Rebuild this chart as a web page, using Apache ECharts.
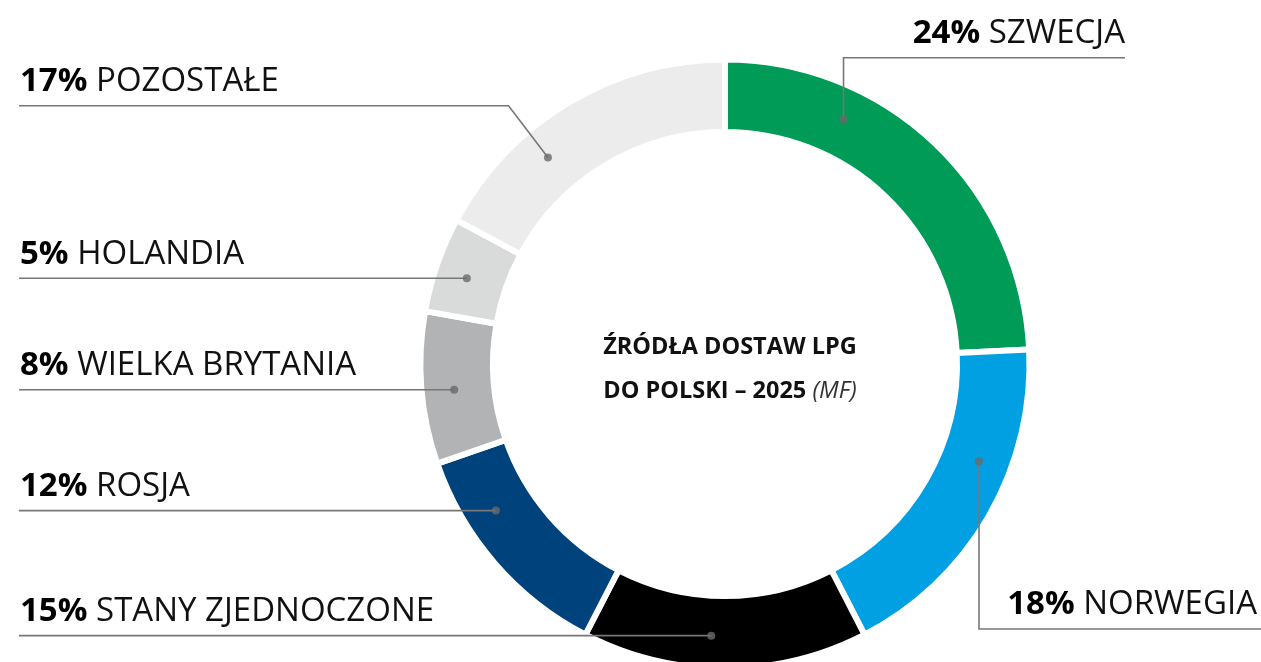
<!DOCTYPE html>
<html>
<head>
<meta charset="utf-8">
<script src="https://cdn.jsdelivr.net/npm/echarts@6/dist/echarts.min.js"></script>
<style>
  html, body { margin: 0; padding: 0; background: #fff; }
  #chart { width: 1261px; height: 662px; }
</style>
</head>
<body>
<div id="chart"></div>
<script>
const names = ["SZWECJA", "NORWEGIA", "STANY ZJEDNOCZONE", "ROSJA", "WIELKA BRYTANIA", "HOLANDIA", "POZOSTAŁE"];
const shares = [24, 18, 15, 12, 8, 5, 17];
const colors = ["#009b57", "#00a0e3", "#000000", "#00427b", "#b2b3b5", "#d9dada", "#ececec"];
const titleLines = ["ŹRÓDŁA DOSTAW LPG", "DO POLSKI – 2025"];
const titleNote = "(MF)";

// geometry of the ring
const CX = 725;
const CY = 364;
const R_OUT = 304.5;
const R_IN = 232;
const R_DOT = 272;
const GAP = 6;

// where each callout sits: t = position of the dot inside its slice
const spots = [
  { side: "right", mode: "v", t: 0.296, lineY: 57.7, textX: 1125, lineEnd: 1125 },
  { side: "right", mode: "v", t: 0.362, lineY: 629, textX: 1257, lineEnd: 1261 },
  { side: "left", mode: "h", t: 0.553, textX: 20, lineEnd: 19 },
  { side: "left", mode: "h", t: 0.69, textX: 20, lineEnd: 19 },
  { side: "left", mode: "h", t: 0.47, textX: 20, lineEnd: 19 },
  { side: "left", mode: "h", t: 0.46, textX: 20, lineEnd: 19 },
  { side: "left", mode: "d", t: 0.343, lineY: 105.7, textX: 20, lineEnd: 19, slope: 0.76 },
];

const total = shares.reduce((a, b) => a + b, 0);
const starts = [];
shares.reduce((acc, v, i) => { starts[i] = acc; return acc + v; }, 0);
const dotAngles = shares.map((v, i) => starts[i] + spots[i].t * v);

function dotPixel(i) {
  const a = dotAngles[i] / total * Math.PI * 2;
  return [CX + R_DOT * Math.sin(a), CY - R_DOT * Math.cos(a)];
}

const pieData = names.map((n, i) => ({ name: n, value: shares[i], itemStyle: { color: colors[i] } }));

const chart = echarts.init(document.getElementById("chart"), null, { renderer: "canvas" });

chart.setOption({
  animation: false,
  backgroundColor: "#ffffff",
  textStyle: { fontFamily: "Open Sans" },
  title: {
    text: `{b|${titleLines[0]}}\n{b|${titleLines[1]}} {i|${titleNote}}`,
    left: CX,
    top: 320,
    textAlign: "center",
    textStyle: {
      fontFamily: "Open Sans",
      fontSize: 23.5,
      lineHeight: 44,
      rich: {
        b: { fontFamily: "Open Sans", fontSize: 23.5, fontWeight: "bold", color: "#111", lineHeight: 44 },
        i: { fontFamily: "Open Sans", fontSize: 23.5, fontWeight: "normal", fontStyle: "italic", color: "#333", lineHeight: 44 },
      },
    },
  },
  polar: { center: [CX, CY], radius: R_OUT },
  angleAxis: { type: "value", min: 0, max: total, startAngle: 90, clockwise: true, show: false },
  radiusAxis: { type: "value", min: 0, max: R_OUT, show: false },
  series: [
    // the coloured ring
    {
      type: "pie",
      z: 1,
      center: [CX, CY],
      radius: [R_IN, R_OUT],
      startAngle: 90,
      clockwise: true,
      silent: true,
      itemStyle: { borderColor: "#ffffff", borderWidth: GAP },
      label: { show: false },
      labelLine: { show: false },
      data: pieData,
    },
    // same slices, invisible, only to carry the callouts above the ring
    {
      type: "pie",
      z: 3,
      center: [CX, CY],
      radius: [R_IN, R_OUT],
      startAngle: 90,
      clockwise: true,
      avoidLabelOverlap: false,
      silent: true,
      itemStyle: { color: "rgba(0,0,0,0)", borderWidth: 0 },
      label: {
        show: true,
        position: "outside",
        fontFamily: "Open Sans",
        fontSize: 33,
        color: "#111",
        formatter: (p) => `{p|${p.value}%} {n|${p.name}}`,
        rich: {
          p: { fontFamily: "Open Sans", fontSize: 33, fontWeight: "bold", color: "#000" },
          n: { fontFamily: "Open Sans", fontSize: 33, color: "#111" },
        },
      },
      labelLine: { show: true, length: 10, length2: 10, lineStyle: { color: "#777777", width: 1.6 } },
      labelLayout: (params) => {
        const i = params.dataIndex;
        const s = spots[i];
        const d = dotPixel(i);
        const lineY = s.mode === "h" ? d[1] : s.lineY;
        let pts;
        if (s.mode === "h") {
          pts = [d, [s.lineEnd, lineY]];
        } else if (s.mode === "v") {
          pts = [d, [d[0], lineY], [s.lineEnd, lineY]];
        } else {
          pts = [d, [d[0] - (d[1] - lineY) * s.slope, lineY], [s.lineEnd, lineY]];
        }
        return {
          x: s.textX,
          y: lineY - 24,
          align: s.side === "left" ? "left" : "right",
          verticalAlign: "middle",
          labelLinePoints: pts,
        };
      },
      data: names.map((n, i) => ({ name: n, value: shares[i] })),
    },
    {
      type: "scatter",
      coordinateSystem: "polar",
      silent: true,
      symbol: "circle",
      symbolSize: 8,
      z: 5,
      itemStyle: { color: "#6a6a6a" },
      data: dotAngles.map((a) => [R_DOT, a]),
    },
  ],
});
</script>
</body>
</html>
